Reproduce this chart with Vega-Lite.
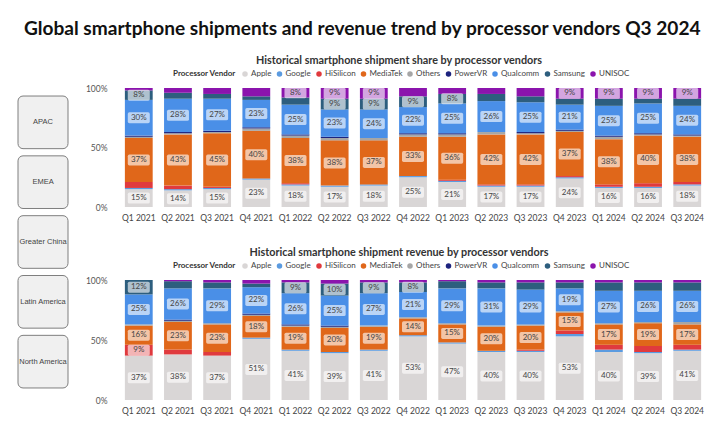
{
  "$schema": "https://vega.github.io/schema/vega-lite/v6.json",
  "background": "white",
  "padding": {"left": 17, "top": 20, "right": 9, "bottom": 4},
  "title": {"text": "Global smartphone shipments and revenue trend by processor vendors Q3 2024", "font": "Lato", "fontSize": 19.1, "fontWeight": "bold", "color": "#111111", "anchor": "middle", "offset": 16},
  "config": {
    "view": {"stroke": null},
    "font": "Lato",
    "axis": {"domain": false, "ticks": false, "grid": false, "labelColor": "#555555", "labelFontSize": 8.5, "title": null},
    "legend": {"orient": "none", "direction": "horizontal", "titleOrient": "left", "titleFontSize": 8, "titleFontWeight": "bold", "titleColor": "#333333", "titlePadding": 5, "labelFontSize": 8, "labelColor": "#444444", "symbolType": "circle", "symbolSize": 30, "symbolStrokeWidth": 0, "columnPadding": 3.5, "labelOffset": 2, "legendX": 54, "legendY": -18},
    "title": {"fontSize": 10.8, "fontWeight": "bold", "color": "#333333"}
  },
  "datasets": {
    "share": [
      {"q": "Q1 2021", "Apple": 15, "Google": 1, "HiSilicon": 5, "MediaTek": 37, "Others": 1, "PowerVR": 1, "Qualcomm": 30, "Samsung": 8, "UNISOC": 2},
      {"q": "Q2 2021", "Apple": 14, "Google": 1, "HiSilicon": 3, "MediaTek": 43, "Others": 1, "PowerVR": 1, "Qualcomm": 28, "Samsung": 5, "UNISOC": 4},
      {"q": "Q3 2021", "Apple": 15, "Google": 1, "HiSilicon": 1, "MediaTek": 45, "Others": 1, "PowerVR": 1, "Qualcomm": 27, "Samsung": 4, "UNISOC": 5},
      {"q": "Q4 2021", "Apple": 23, "Google": 1, "HiSilicon": 0, "MediaTek": 40, "Others": 2, "PowerVR": 1, "Qualcomm": 23, "Samsung": 3, "UNISOC": 7},
      {"q": "Q1 2022", "Apple": 18, "Google": 1, "HiSilicon": 1, "MediaTek": 38, "Others": 2, "PowerVR": 1, "Qualcomm": 25, "Samsung": 6, "UNISOC": 8},
      {"q": "Q2 2022", "Apple": 17, "Google": 1, "HiSilicon": 0, "MediaTek": 38, "Others": 2, "PowerVR": 1, "Qualcomm": 23, "Samsung": 9, "UNISOC": 9},
      {"q": "Q3 2022", "Apple": 18, "Google": 1, "HiSilicon": 0, "MediaTek": 37, "Others": 2, "PowerVR": 0, "Qualcomm": 24, "Samsung": 9, "UNISOC": 9},
      {"q": "Q4 2022", "Apple": 25, "Google": 1, "HiSilicon": 0, "MediaTek": 33, "Others": 2, "PowerVR": 1, "Qualcomm": 22, "Samsung": 9, "UNISOC": 7},
      {"q": "Q1 2023", "Apple": 21, "Google": 1, "HiSilicon": 1, "MediaTek": 36, "Others": 2, "PowerVR": 1, "Qualcomm": 25, "Samsung": 8, "UNISOC": 5},
      {"q": "Q2 2023", "Apple": 17, "Google": 1, "HiSilicon": 1, "MediaTek": 42, "Others": 2, "PowerVR": 0, "Qualcomm": 26, "Samsung": 6, "UNISOC": 5},
      {"q": "Q3 2023", "Apple": 17, "Google": 1, "HiSilicon": 1, "MediaTek": 42, "Others": 1, "PowerVR": 1, "Qualcomm": 25, "Samsung": 5, "UNISOC": 7},
      {"q": "Q4 2023", "Apple": 24, "Google": 1, "HiSilicon": 1, "MediaTek": 37, "Others": 1, "PowerVR": 1, "Qualcomm": 21, "Samsung": 5, "UNISOC": 9},
      {"q": "Q1 2024", "Apple": 16, "Google": 1, "HiSilicon": 2, "MediaTek": 38, "Others": 2, "PowerVR": 1, "Qualcomm": 25, "Samsung": 6, "UNISOC": 9},
      {"q": "Q2 2024", "Apple": 16, "Google": 1, "HiSilicon": 3, "MediaTek": 40, "Others": 1, "PowerVR": 1, "Qualcomm": 25, "Samsung": 4, "UNISOC": 9},
      {"q": "Q3 2024", "Apple": 18, "Google": 1, "HiSilicon": 2, "MediaTek": 38, "Others": 1, "PowerVR": 1, "Qualcomm": 24, "Samsung": 6, "UNISOC": 9}
    ],
    "revenue": [
      {"q": "Q1 2021", "Apple": 37, "Google": 0, "HiSilicon": 9, "MediaTek": 16, "Others": 1, "PowerVR": 0, "Qualcomm": 25, "Samsung": 12, "UNISOC": 0},
      {"q": "Q2 2021", "Apple": 38, "Google": 0, "HiSilicon": 4, "MediaTek": 23, "Others": 1, "PowerVR": 1, "Qualcomm": 26, "Samsung": 6, "UNISOC": 1},
      {"q": "Q3 2021", "Apple": 37, "Google": 0, "HiSilicon": 3, "MediaTek": 23, "Others": 1, "PowerVR": 0, "Qualcomm": 29, "Samsung": 5, "UNISOC": 2},
      {"q": "Q4 2021", "Apple": 51, "Google": 1, "HiSilicon": 0, "MediaTek": 18, "Others": 1, "PowerVR": 1, "Qualcomm": 22, "Samsung": 3, "UNISOC": 3},
      {"q": "Q1 2022", "Apple": 41, "Google": 1, "HiSilicon": 0, "MediaTek": 19, "Others": 1, "PowerVR": 1, "Qualcomm": 26, "Samsung": 9, "UNISOC": 2},
      {"q": "Q2 2022", "Apple": 39, "Google": 1, "HiSilicon": 0, "MediaTek": 20, "Others": 1, "PowerVR": 1, "Qualcomm": 25, "Samsung": 10, "UNISOC": 3},
      {"q": "Q3 2022", "Apple": 41, "Google": 1, "HiSilicon": 0, "MediaTek": 19, "Others": 1, "PowerVR": 0, "Qualcomm": 27, "Samsung": 9, "UNISOC": 2},
      {"q": "Q4 2022", "Apple": 53, "Google": 1, "HiSilicon": 0, "MediaTek": 14, "Others": 1, "PowerVR": 0, "Qualcomm": 21, "Samsung": 8, "UNISOC": 2},
      {"q": "Q1 2023", "Apple": 47, "Google": 1, "HiSilicon": 0, "MediaTek": 15, "Others": 1, "PowerVR": 0, "Qualcomm": 29, "Samsung": 6, "UNISOC": 1},
      {"q": "Q2 2023", "Apple": 40, "Google": 1, "HiSilicon": 0, "MediaTek": 20, "Others": 1, "PowerVR": 0, "Qualcomm": 31, "Samsung": 5, "UNISOC": 2},
      {"q": "Q3 2023", "Apple": 40, "Google": 1, "HiSilicon": 1, "MediaTek": 20, "Others": 1, "PowerVR": 0, "Qualcomm": 29, "Samsung": 6, "UNISOC": 2},
      {"q": "Q4 2023", "Apple": 53, "Google": 2, "HiSilicon": 3, "MediaTek": 15, "Others": 1, "PowerVR": 0, "Qualcomm": 19, "Samsung": 5, "UNISOC": 2},
      {"q": "Q1 2024", "Apple": 40, "Google": 2, "HiSilicon": 4, "MediaTek": 17, "Others": 1, "PowerVR": 0, "Qualcomm": 27, "Samsung": 7, "UNISOC": 2},
      {"q": "Q2 2024", "Apple": 39, "Google": 1, "HiSilicon": 5, "MediaTek": 19, "Others": 1, "PowerVR": 0, "Qualcomm": 26, "Samsung": 7, "UNISOC": 2},
      {"q": "Q3 2024", "Apple": 41, "Google": 1, "HiSilicon": 4, "MediaTek": 17, "Others": 2, "PowerVR": 0, "Qualcomm": 26, "Samsung": 7, "UNISOC": 2}
    ]
  },
  "spacing": 16,
  "hconcat": [
    {
      "width": 50,
      "height": 308,
      "data": {"values": [{"region": "APAC"}, {"region": "EMEA"}, {"region": "Greater China"}, {"region": "Latin America"}, {"region": "North America"}]},
      "encoding": {"y": {"field": "region", "type": "nominal", "sort": null, "axis": null, "scale": {"paddingInner": 0.12, "paddingOuter": 0.134}}},
      "layer": [
        {"mark": {"type": "rect", "fill": "#f0f0f0", "stroke": "#7f7f7f", "strokeWidth": 1, "cornerRadius": 5}},
        {"mark": {"type": "text", "font": "Liberation Sans", "fontSize": 7.5, "color": "#444444"}, "encoding": {"text": {"field": "region"}}}
      ]
    },
    {
      "spacing": 25,
      "resolve": {"legend": {"color": "independent"}},
      "vconcat": [
        {
          "title": {"text": "Historical smartphone shipment share by processor vendors", "offset": 4, "dx": -14},
          "width": 588,
          "height": 119,
          "data": {"name": "share"},
          "transform": [
            {"fold": ["Apple", "Google", "HiSilicon", "MediaTek", "Others", "PowerVR", "Qualcomm", "Samsung", "UNISOC"], "as": ["vendor", "pct"]},
            {"stack": "pct", "groupby": ["q"], "sort": [{"field": "vendor", "order": "ascending"}], "as": ["y0", "y1"]}
          ],
          "encoding": {
            "x": {"field": "q", "type": "ordinal", "sort": null, "scale": {"paddingInner": 0.29, "paddingOuter": 0.15}, "axis": {"labelAngle": 0, "labelPadding": 6, "labelColor": "#444444", "labelFontSize": 8.5}}
          },
          "layer": [
            {
              "mark": {"type": "bar"},
              "encoding": {
                "y": {"field": "y0", "type": "quantitative", "scale": {"domain": [0, 100]}, "axis": {"values": [0, 50, 100], "labelExpr": "datum.value + '%'", "labelPadding": 12}},
                "y2": {"field": "y1"},
                "color": {"field": "vendor", "type": "nominal", "scale": {"domain": ["Apple", "Google", "HiSilicon", "MediaTek", "Others", "PowerVR", "Qualcomm", "Samsung", "UNISOC"], "range": ["#d9d6d6", "#5b9be0", "#e03a3e", "#e0671a", "#a6a6a6", "#1c237e", "#4a8fe7", "#2d5e7e", "#8b14ad"]}, "legend": {"title": "Processor Vendor"}}
              }
            },
            {
              "transform": [{"filter": "datum.pct >= 8"}, {"fold": ["y0", "y1"], "as": ["edge", "ypos"]}],
              "mark": {"type": "point", "shape": "M-0.85,-0.5H0.85Q1,-0.5 1,-0.35V0.35Q1,0.5 0.85,0.5H-0.85Q-1,0.5 -1,0.35V-0.35Q-1,-0.5 -0.85,-0.5Z", "size": 484, "filled": true, "fill": "#ffffff", "opacity": 0.62, "strokeWidth": 0},
              "encoding": {
                "y": {"aggregate": "mean", "field": "ypos", "type": "quantitative"},
                "detail": [{"field": "vendor"}, {"field": "pct"}]
              }
            },
            {
              "transform": [{"filter": "datum.pct >= 8"}, {"fold": ["y0", "y1"], "as": ["edge", "ypos"]}],
              "mark": {"type": "text", "fontSize": 8, "color": "#444444", "text": {"expr": "datum.pct + '%'"}},
              "encoding": {
                "y": {"aggregate": "mean", "field": "ypos", "type": "quantitative"},
                "detail": [{"field": "vendor"}, {"field": "pct"}]
              }
            }
          ]
        },
        {
          "title": {"text": "Historical smartphone shipment revenue by processor vendors", "offset": 4, "dx": -14},
          "width": 588,
          "height": 120,
          "data": {"name": "revenue"},
          "transform": [
            {"fold": ["Apple", "Google", "HiSilicon", "MediaTek", "Others", "PowerVR", "Qualcomm", "Samsung", "UNISOC"], "as": ["vendor", "pct"]},
            {"stack": "pct", "groupby": ["q"], "sort": [{"field": "vendor", "order": "ascending"}], "as": ["y0", "y1"]}
          ],
          "encoding": {
            "x": {"field": "q", "type": "ordinal", "sort": null, "scale": {"paddingInner": 0.29, "paddingOuter": 0.15}, "axis": {"labelAngle": 0, "labelPadding": 6, "labelColor": "#444444", "labelFontSize": 8.5}}
          },
          "layer": [
            {
              "mark": {"type": "bar"},
              "encoding": {
                "y": {"field": "y0", "type": "quantitative", "scale": {"domain": [0, 100]}, "axis": {"values": [0, 50, 100], "labelExpr": "datum.value + '%'", "labelPadding": 12}},
                "y2": {"field": "y1"},
                "color": {"field": "vendor", "type": "nominal", "scale": {"domain": ["Apple", "Google", "HiSilicon", "MediaTek", "Others", "PowerVR", "Qualcomm", "Samsung", "UNISOC"], "range": ["#d9d6d6", "#5b9be0", "#e03a3e", "#e0671a", "#a6a6a6", "#1c237e", "#4a8fe7", "#2d5e7e", "#8b14ad"]}, "legend": {"title": "Processor Vendor"}}
              }
            },
            {
              "transform": [{"filter": "datum.pct >= 8"}, {"fold": ["y0", "y1"], "as": ["edge", "ypos"]}],
              "mark": {"type": "point", "shape": "M-0.85,-0.5H0.85Q1,-0.5 1,-0.35V0.35Q1,0.5 0.85,0.5H-0.85Q-1,0.5 -1,0.35V-0.35Q-1,-0.5 -0.85,-0.5Z", "size": 484, "filled": true, "fill": "#ffffff", "opacity": 0.62, "strokeWidth": 0},
              "encoding": {
                "y": {"aggregate": "mean", "field": "ypos", "type": "quantitative"},
                "detail": [{"field": "vendor"}, {"field": "pct"}]
              }
            },
            {
              "transform": [{"filter": "datum.pct >= 8"}, {"fold": ["y0", "y1"], "as": ["edge", "ypos"]}],
              "mark": {"type": "text", "fontSize": 8, "color": "#444444", "text": {"expr": "datum.pct + '%'"}},
              "encoding": {
                "y": {"aggregate": "mean", "field": "ypos", "type": "quantitative"},
                "detail": [{"field": "vendor"}, {"field": "pct"}]
              }
            }
          ]
        }
      ]
    }
  ]
}
